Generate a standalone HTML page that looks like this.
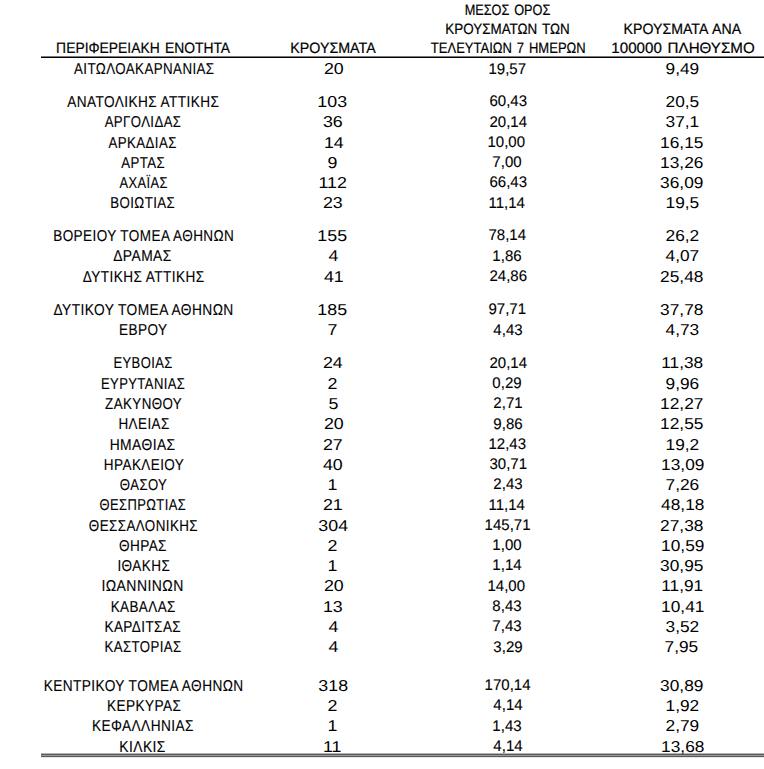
<!DOCTYPE html>
<html><head><meta charset="utf-8"><style>
html,body{margin:0;padding:0;background:#fff;}
body{width:764px;height:769px;position:relative;overflow:hidden;font-family:"Liberation Sans",sans-serif;color:#000;text-rendering:geometricPrecision;}
.t{position:absolute;white-space:nowrap;text-align:center;transform-origin:50% 50%;}
.s{-webkit-text-stroke:0.12px #000;}
.sh{-webkit-text-stroke:0.2px #000;}
.l{position:absolute;left:41px;right:0;}
</style></head><body>
<div class="l" style="top:56px;height:1px;background:#7a7a7a"></div>
<div class="l" style="top:57px;height:1px;background:#000"></div>
<div class="l" style="top:753px;height:1px;background:#b5b5b5"></div>
<div class="l" style="top:754px;height:1px;background:#5a5a5a"></div>
<div class="l" style="top:755px;height:1px;background:#9a9a9a"></div>
<div class="l" style="top:756px;height:1px;background:#5a5a5a"></div>
<div class="l" style="top:757px;height:1px;background:#e6e6e6"></div>
<div class="t s" style="left:60.74px;top:61.62px;width:166.55px;font-size:15.8px;line-height:15.8px;letter-spacing:0.500px;transform:scaleX(0.8440)">ΑΙΤΩΛΟΑΚΑΡΝΑΝΙΑΣ</div>
<div class="t" style="left:324.55px;top:61.62px;width:17.58px;font-size:15.8px;line-height:15.8px;transform:scaleX(1.1266)">20</div>
<div class="t s" style="left:488.01px;top:61.96px;width:38.54px;font-size:15.4px;line-height:15.4px;transform:scaleX(0.9760)">19,57</div>
<div class="t" style="left:667.37px;top:61.62px;width:30.75px;font-size:15.8px;line-height:15.8px;transform:scaleX(1.0950)">9,49</div>
<div class="t s" style="left:54.86px;top:94.62px;width:176.64px;font-size:15.8px;line-height:15.8px;letter-spacing:0.500px;transform:scaleX(0.8623)">ΑΝΑΤΟΛΙΚΗΣ ΑΤΤΙΚΗΣ</div>
<div class="t" style="left:319.37px;top:94.62px;width:26.36px;font-size:15.8px;line-height:15.8px;transform:scaleX(1.1266)">103</div>
<div class="t s" style="left:488.52px;top:93.96px;width:38.54px;font-size:15.4px;line-height:15.4px;transform:scaleX(0.9760)">60,43</div>
<div class="t" style="left:667.01px;top:94.62px;width:30.75px;font-size:15.8px;line-height:15.8px;transform:scaleX(1.0950)">20,5</div>
<div class="t s" style="left:97.15px;top:114.62px;width:92.09px;font-size:15.8px;line-height:15.8px;letter-spacing:0.500px;transform:scaleX(0.8334)">ΑΡΓΟΛΙΔΑΣ</div>
<div class="t" style="left:323.74px;top:114.62px;width:17.58px;font-size:15.8px;line-height:15.8px;transform:scaleX(1.1266)">36</div>
<div class="t s" style="left:488.66px;top:114.96px;width:38.54px;font-size:15.4px;line-height:15.4px;transform:scaleX(0.9760)">20,14</div>
<div class="t" style="left:667.34px;top:114.62px;width:30.75px;font-size:15.8px;line-height:15.8px;transform:scaleX(1.0950)">37,1</div>
<div class="t s" style="left:102.42px;top:135.62px;width:81.41px;font-size:15.8px;line-height:15.8px;letter-spacing:0.500px;transform:scaleX(0.8382)">ΑΡΚΑΔΙΑΣ</div>
<div class="t" style="left:324.54px;top:135.62px;width:17.58px;font-size:15.8px;line-height:15.8px;transform:scaleX(1.1266)">14</div>
<div class="t s" style="left:487.38px;top:134.96px;width:38.54px;font-size:15.4px;line-height:15.4px;transform:scaleX(0.9760)">10,00</div>
<div class="t" style="left:662.42px;top:135.62px;width:39.54px;font-size:15.8px;line-height:15.8px;transform:scaleX(1.0950)">16,15</div>
<div class="t s" style="left:117.48px;top:155.62px;width:52.36px;font-size:15.8px;line-height:15.8px;letter-spacing:0.500px;transform:scaleX(0.8358)">ΑΡΤΑΣ</div>
<div class="t" style="left:328.47px;top:155.62px;width:8.79px;font-size:15.8px;line-height:15.8px;transform:scaleX(1.1266)">9</div>
<div class="t s" style="left:492.23px;top:154.96px;width:29.97px;font-size:15.4px;line-height:15.4px;transform:scaleX(0.9760)">7,00</div>
<div class="t" style="left:662.47px;top:155.62px;width:39.54px;font-size:15.8px;line-height:15.8px;transform:scaleX(1.0950)">13,26</div>
<div class="t s" style="left:113.50px;top:175.62px;width:59.31px;font-size:15.8px;line-height:15.8px;letter-spacing:0.500px;transform:scaleX(0.8159)">ΑΧΑΪΑΣ</div>
<div class="t" style="left:319.63px;top:175.62px;width:25.19px;font-size:15.8px;line-height:15.8px;transform:scaleX(1.1266)">112</div>
<div class="t s" style="left:488.52px;top:174.96px;width:38.54px;font-size:15.4px;line-height:15.4px;transform:scaleX(0.9760)">66,43</div>
<div class="t" style="left:662.42px;top:175.62px;width:39.54px;font-size:15.8px;line-height:15.8px;transform:scaleX(1.0950)">36,09</div>
<div class="t s" style="left:104.40px;top:195.62px;width:77.38px;font-size:15.8px;line-height:15.8px;letter-spacing:0.500px;transform:scaleX(0.8411)">ΒΟΙΩΤΙΑΣ</div>
<div class="t" style="left:323.72px;top:195.62px;width:17.58px;font-size:15.8px;line-height:15.8px;transform:scaleX(1.1266)">23</div>
<div class="t s" style="left:488.33px;top:195.96px;width:37.40px;font-size:15.4px;line-height:15.4px;transform:scaleX(0.9760)">11,14</div>
<div class="t" style="left:666.99px;top:195.62px;width:30.75px;font-size:15.8px;line-height:15.8px;transform:scaleX(1.0950)">19,5</div>
<div class="t s" style="left:37.70px;top:228.62px;width:211.52px;font-size:15.8px;line-height:15.8px;letter-spacing:0.500px;transform:scaleX(0.8565)">ΒΟΡΕΙΟΥ ΤΟΜΕΑ ΑΘΗΝΩΝ</div>
<div class="t" style="left:319.21px;top:228.62px;width:26.36px;font-size:15.8px;line-height:15.8px;transform:scaleX(1.1266)">155</div>
<div class="t s" style="left:487.82px;top:227.96px;width:38.54px;font-size:15.4px;line-height:15.4px;transform:scaleX(0.9760)">78,14</div>
<div class="t" style="left:667.31px;top:228.62px;width:30.75px;font-size:15.8px;line-height:15.8px;transform:scaleX(1.0950)">26,2</div>
<div class="t s" style="left:109.02px;top:248.62px;width:66.93px;font-size:15.8px;line-height:15.8px;letter-spacing:0.500px;transform:scaleX(0.8755)">ΔΡΑΜΑΣ</div>
<div class="t" style="left:328.82px;top:248.62px;width:8.79px;font-size:15.8px;line-height:15.8px;transform:scaleX(1.1266)">4</div>
<div class="t s" style="left:492.22px;top:248.96px;width:29.97px;font-size:15.4px;line-height:15.4px;transform:scaleX(0.9760)">1,86</div>
<div class="t" style="left:667.30px;top:248.62px;width:30.75px;font-size:15.8px;line-height:15.8px;transform:scaleX(1.0950)">4,07</div>
<div class="t s" style="left:72.51px;top:269.62px;width:141.47px;font-size:15.8px;line-height:15.8px;letter-spacing:0.500px;transform:scaleX(0.8604)">ΔΥΤΙΚΗΣ ΑΤΤΙΚΗΣ</div>
<div class="t" style="left:324.63px;top:269.62px;width:17.58px;font-size:15.8px;line-height:15.8px;transform:scaleX(1.1266)">41</div>
<div class="t s" style="left:488.52px;top:268.96px;width:38.54px;font-size:15.4px;line-height:15.4px;transform:scaleX(0.9760)">24,86</div>
<div class="t" style="left:662.28px;top:269.62px;width:39.54px;font-size:15.8px;line-height:15.8px;transform:scaleX(1.0950)">25,48</div>
<div class="t s" style="left:39.72px;top:302.62px;width:207.24px;font-size:15.8px;line-height:15.8px;letter-spacing:0.500px;transform:scaleX(0.8699)">ΔΥΤΙΚΟΥ ΤΟΜΕΑ ΑΘΗΝΩΝ</div>
<div class="t" style="left:319.21px;top:302.62px;width:26.36px;font-size:15.8px;line-height:15.8px;transform:scaleX(1.1266)">185</div>
<div class="t s" style="left:487.76px;top:301.96px;width:38.54px;font-size:15.4px;line-height:15.4px;transform:scaleX(0.9760)">97,71</div>
<div class="t" style="left:662.33px;top:302.62px;width:39.54px;font-size:15.8px;line-height:15.8px;transform:scaleX(1.0950)">37,78</div>
<div class="t s" style="left:114.91px;top:322.62px;width:56.44px;font-size:15.8px;line-height:15.8px;letter-spacing:0.500px;transform:scaleX(0.8587)">ΕΒΡΟΥ</div>
<div class="t" style="left:328.33px;top:322.62px;width:8.79px;font-size:15.8px;line-height:15.8px;transform:scaleX(1.1266)">7</div>
<div class="t s" style="left:492.56px;top:322.96px;width:29.97px;font-size:15.4px;line-height:15.4px;transform:scaleX(0.9760)">4,43</div>
<div class="t" style="left:666.92px;top:322.62px;width:30.75px;font-size:15.8px;line-height:15.8px;transform:scaleX(1.0950)">4,73</div>
<div class="t s" style="left:107.17px;top:355.62px;width:72.10px;font-size:15.8px;line-height:15.8px;letter-spacing:0.500px;transform:scaleX(0.8223)">ΕΥΒΟΙΑΣ</div>
<div class="t" style="left:324.37px;top:355.62px;width:17.58px;font-size:15.8px;line-height:15.8px;transform:scaleX(1.1266)">24</div>
<div class="t s" style="left:488.66px;top:355.96px;width:38.54px;font-size:15.4px;line-height:15.4px;transform:scaleX(0.9760)">20,14</div>
<div class="t" style="left:662.68px;top:355.62px;width:38.37px;font-size:15.8px;line-height:15.8px;transform:scaleX(1.0950)">11,38</div>
<div class="t s" style="left:92.08px;top:376.62px;width:102.28px;font-size:15.8px;line-height:15.8px;letter-spacing:0.500px;transform:scaleX(0.8255)">ΕΥΡΥΤΑΝΙΑΣ</div>
<div class="t" style="left:328.47px;top:376.62px;width:8.79px;font-size:15.8px;line-height:15.8px;transform:scaleX(1.1266)">2</div>
<div class="t s" style="left:492.21px;top:375.96px;width:29.97px;font-size:15.4px;line-height:15.4px;transform:scaleX(0.9760)">0,29</div>
<div class="t" style="left:667.21px;top:376.62px;width:30.75px;font-size:15.8px;line-height:15.8px;transform:scaleX(1.0950)">9,96</div>
<div class="t s" style="left:97.65px;top:396.62px;width:91.29px;font-size:15.8px;line-height:15.8px;letter-spacing:0.500px;transform:scaleX(0.8449)">ΖΑΚΥΝΘΟΥ</div>
<div class="t" style="left:328.76px;top:396.62px;width:8.79px;font-size:15.8px;line-height:15.8px;transform:scaleX(1.1266)">5</div>
<div class="t s" style="left:492.98px;top:395.96px;width:29.97px;font-size:15.4px;line-height:15.4px;transform:scaleX(0.9760)">2,71</div>
<div class="t" style="left:662.15px;top:396.62px;width:39.54px;font-size:15.8px;line-height:15.8px;transform:scaleX(1.0950)">12,27</div>
<div class="t s" style="left:113.54px;top:416.62px;width:60.20px;font-size:15.8px;line-height:15.8px;letter-spacing:0.500px;transform:scaleX(0.8527)">ΗΛΕΙΑΣ</div>
<div class="t" style="left:324.55px;top:416.62px;width:17.58px;font-size:15.8px;line-height:15.8px;transform:scaleX(1.1266)">20</div>
<div class="t s" style="left:492.96px;top:416.96px;width:29.97px;font-size:15.4px;line-height:15.4px;transform:scaleX(0.9760)">9,86</div>
<div class="t" style="left:662.42px;top:416.62px;width:39.54px;font-size:15.8px;line-height:15.8px;transform:scaleX(1.0950)">12,55</div>
<div class="t s" style="left:105.48px;top:437.62px;width:75.27px;font-size:15.8px;line-height:15.8px;letter-spacing:0.500px;transform:scaleX(0.8755)">ΗΜΑΘΙΑΣ</div>
<div class="t" style="left:324.14px;top:437.62px;width:17.58px;font-size:15.8px;line-height:15.8px;transform:scaleX(1.1266)">27</div>
<div class="t s" style="left:487.63px;top:436.96px;width:38.54px;font-size:15.4px;line-height:15.4px;transform:scaleX(0.9760)">12,43</div>
<div class="t" style="left:667.29px;top:437.62px;width:30.75px;font-size:15.8px;line-height:15.8px;transform:scaleX(1.0950)">19,2</div>
<div class="t s" style="left:96.62px;top:457.62px;width:94.16px;font-size:15.8px;line-height:15.8px;letter-spacing:0.500px;transform:scaleX(0.8548)">ΗΡΑΚΛΕΙΟΥ</div>
<div class="t" style="left:324.39px;top:457.62px;width:17.58px;font-size:15.8px;line-height:15.8px;transform:scaleX(1.1266)">40</div>
<div class="t s" style="left:488.56px;top:456.96px;width:38.54px;font-size:15.4px;line-height:15.4px;transform:scaleX(0.9760)">30,71</div>
<div class="t" style="left:662.62px;top:457.62px;width:39.54px;font-size:15.8px;line-height:15.8px;transform:scaleX(1.0950)">13,09</div>
<div class="t s" style="left:115.31px;top:477.62px;width:57.13px;font-size:15.8px;line-height:15.8px;letter-spacing:0.500px;transform:scaleX(0.8311)">ΘΑΣΟΥ</div>
<div class="t" style="left:328.35px;top:477.62px;width:8.79px;font-size:15.8px;line-height:15.8px;transform:scaleX(1.1266)">1</div>
<div class="t s" style="left:492.94px;top:476.96px;width:29.97px;font-size:15.4px;line-height:15.4px;transform:scaleX(0.9760)">2,43</div>
<div class="t" style="left:666.51px;top:477.62px;width:30.75px;font-size:15.8px;line-height:15.8px;transform:scaleX(1.0950)">7,26</div>
<div class="t s" style="left:90.09px;top:497.62px;width:105.71px;font-size:15.8px;line-height:15.8px;letter-spacing:0.500px;transform:scaleX(0.8190)">ΘΕΣΠΡΩΤΙΑΣ</div>
<div class="t" style="left:323.79px;top:497.62px;width:17.58px;font-size:15.8px;line-height:15.8px;transform:scaleX(1.1266)">21</div>
<div class="t s" style="left:488.33px;top:497.96px;width:37.40px;font-size:15.4px;line-height:15.4px;transform:scaleX(0.9760)">11,14</div>
<div class="t" style="left:663.15px;top:497.62px;width:39.54px;font-size:15.8px;line-height:15.8px;transform:scaleX(1.0950)">48,18</div>
<div class="t s" style="left:79.09px;top:518.62px;width:128.93px;font-size:15.8px;line-height:15.8px;letter-spacing:0.500px;transform:scaleX(0.8471)">ΘΕΣΣΑΛΟΝΙΚΗΣ</div>
<div class="t" style="left:320.19px;top:518.62px;width:26.36px;font-size:15.8px;line-height:15.8px;transform:scaleX(1.1266)">304</div>
<div class="t s" style="left:483.67px;top:517.96px;width:47.10px;font-size:15.4px;line-height:15.4px;transform:scaleX(0.9760)">145,71</div>
<div class="t" style="left:662.28px;top:518.62px;width:39.54px;font-size:15.8px;line-height:15.8px;transform:scaleX(1.0950)">27,38</div>
<div class="t s" style="left:115.15px;top:538.62px;width:55.87px;font-size:15.8px;line-height:15.8px;letter-spacing:0.500px;transform:scaleX(0.8601)">ΘΗΡΑΣ</div>
<div class="t" style="left:328.47px;top:538.62px;width:8.79px;font-size:15.8px;line-height:15.8px;transform:scaleX(1.1266)">2</div>
<div class="t s" style="left:492.14px;top:537.96px;width:29.97px;font-size:15.4px;line-height:15.4px;transform:scaleX(0.9760)">1,00</div>
<div class="t" style="left:662.62px;top:538.62px;width:39.54px;font-size:15.8px;line-height:15.8px;transform:scaleX(1.0950)">10,59</div>
<div class="t s" style="left:112.86px;top:558.62px;width:61.65px;font-size:15.8px;line-height:15.8px;letter-spacing:0.500px;transform:scaleX(0.8561)">ΙΘΑΚΗΣ</div>
<div class="t" style="left:328.35px;top:558.62px;width:8.79px;font-size:15.8px;line-height:15.8px;transform:scaleX(1.1266)">1</div>
<div class="t s" style="left:492.40px;top:557.96px;width:29.97px;font-size:15.4px;line-height:15.4px;transform:scaleX(0.9760)">1,14</div>
<div class="t" style="left:662.21px;top:558.62px;width:39.54px;font-size:15.8px;line-height:15.8px;transform:scaleX(1.0950)">30,95</div>
<div class="t s" style="left:96.34px;top:578.62px;width:93.08px;font-size:15.8px;line-height:15.8px;letter-spacing:0.500px;transform:scaleX(0.8838)">ΙΩΑΝΝΙΝΩΝ</div>
<div class="t" style="left:324.55px;top:578.62px;width:17.58px;font-size:15.8px;line-height:15.8px;transform:scaleX(1.1266)">20</div>
<div class="t s" style="left:487.38px;top:578.96px;width:38.54px;font-size:15.4px;line-height:15.4px;transform:scaleX(0.9760)">14,00</div>
<div class="t" style="left:662.77px;top:578.62px;width:38.37px;font-size:15.8px;line-height:15.8px;transform:scaleX(1.0950)">11,91</div>
<div class="t s" style="left:105.05px;top:599.62px;width:76.52px;font-size:15.8px;line-height:15.8px;letter-spacing:0.500px;transform:scaleX(0.8515)">ΚΑΒΑΛΑΣ</div>
<div class="t" style="left:323.89px;top:599.62px;width:17.58px;font-size:15.8px;line-height:15.8px;transform:scaleX(1.1266)">13</div>
<div class="t s" style="left:492.03px;top:598.96px;width:29.97px;font-size:15.4px;line-height:15.4px;transform:scaleX(0.9760)">8,43</div>
<div class="t" style="left:662.62px;top:599.62px;width:39.54px;font-size:15.8px;line-height:15.8px;transform:scaleX(1.0950)">10,41</div>
<div class="t s" style="left:98.46px;top:619.62px;width:89.61px;font-size:15.8px;line-height:15.8px;letter-spacing:0.500px;transform:scaleX(0.8548)">ΚΑΡΔΙΤΣΑΣ</div>
<div class="t" style="left:328.82px;top:619.62px;width:8.79px;font-size:15.8px;line-height:15.8px;transform:scaleX(1.1266)">4</div>
<div class="t s" style="left:492.35px;top:618.96px;width:29.97px;font-size:15.4px;line-height:15.4px;transform:scaleX(0.9760)">7,43</div>
<div class="t" style="left:667.41px;top:619.62px;width:30.75px;font-size:15.8px;line-height:15.8px;transform:scaleX(1.0950)">3,52</div>
<div class="t s" style="left:97.13px;top:639.62px;width:92.24px;font-size:15.8px;line-height:15.8px;letter-spacing:0.500px;transform:scaleX(0.8369)">ΚΑΣΤΟΡΙΑΣ</div>
<div class="t" style="left:328.82px;top:639.62px;width:8.79px;font-size:15.8px;line-height:15.8px;transform:scaleX(1.1266)">4</div>
<div class="t s" style="left:492.93px;top:639.96px;width:29.97px;font-size:15.4px;line-height:15.4px;transform:scaleX(0.9760)">3,29</div>
<div class="t" style="left:666.44px;top:639.62px;width:30.75px;font-size:15.8px;line-height:15.8px;transform:scaleX(1.0950)">7,95</div>
<div class="t s" style="left:28.20px;top:678.62px;width:231.34px;font-size:15.8px;line-height:15.8px;letter-spacing:0.500px;transform:scaleX(0.8648)">ΚΕΝΤΡΙΚΟΥ ΤΟΜΕΑ ΑΘΗΝΩΝ</div>
<div class="t" style="left:319.53px;top:678.62px;width:26.36px;font-size:15.8px;line-height:15.8px;transform:scaleX(1.1266)">318</div>
<div class="t s" style="left:483.78px;top:677.96px;width:47.10px;font-size:15.4px;line-height:15.4px;transform:scaleX(0.9760)">170,14</div>
<div class="t" style="left:662.42px;top:678.62px;width:39.54px;font-size:15.8px;line-height:15.8px;transform:scaleX(1.0950)">30,89</div>
<div class="t s" style="left:100.71px;top:698.62px;width:86.37px;font-size:15.8px;line-height:15.8px;letter-spacing:0.500px;transform:scaleX(0.8627)">ΚΕΡΚΥΡΑΣ</div>
<div class="t" style="left:328.47px;top:698.62px;width:8.79px;font-size:15.8px;line-height:15.8px;transform:scaleX(1.1266)">2</div>
<div class="t s" style="left:492.70px;top:697.96px;width:29.97px;font-size:15.4px;line-height:15.4px;transform:scaleX(0.9760)">4,14</div>
<div class="t" style="left:667.29px;top:698.62px;width:30.75px;font-size:15.8px;line-height:15.8px;transform:scaleX(1.0950)">1,92</div>
<div class="t s" style="left:84.09px;top:718.62px;width:117.89px;font-size:15.8px;line-height:15.8px;letter-spacing:0.500px;transform:scaleX(0.8653)">ΚΕΦΑΛΛΗΝΙΑΣ</div>
<div class="t" style="left:328.35px;top:718.62px;width:8.79px;font-size:15.8px;line-height:15.8px;transform:scaleX(1.1266)">1</div>
<div class="t s" style="left:492.26px;top:718.96px;width:29.97px;font-size:15.4px;line-height:15.4px;transform:scaleX(0.9760)">1,43</div>
<div class="t" style="left:667.24px;top:718.62px;width:30.75px;font-size:15.8px;line-height:15.8px;transform:scaleX(1.0950)">2,79</div>
<div class="t s" style="left:116.37px;top:739.62px;width:53.18px;font-size:15.8px;line-height:15.8px;letter-spacing:0.500px;transform:scaleX(0.8749)">ΚΙΛΚΙΣ</div>
<div class="t" style="left:324.41px;top:739.62px;width:16.40px;font-size:15.8px;line-height:15.8px;transform:scaleX(1.1266)">11</div>
<div class="t s" style="left:492.70px;top:738.96px;width:29.97px;font-size:15.4px;line-height:15.4px;transform:scaleX(0.9760)">4,14</div>
<div class="t" style="left:662.53px;top:739.62px;width:39.54px;font-size:15.8px;line-height:15.8px;transform:scaleX(1.0950)">13,68</div>
<div class="t sh" style="left:457.09px;top:3.30px;width:100.99px;font-size:15.0px;line-height:15.0px;word-spacing:1.50px;transform:scaleX(0.8486)">ΜΕΣΟΣ ΟΡΟΣ</div>
<div class="t sh" style="left:438.43px;top:22.30px;width:139.14px;font-size:15.0px;line-height:15.0px;word-spacing:1.50px;transform:scaleX(0.8946)">ΚΡΟΥΣΜΑΤΩΝ ΤΩΝ</div>
<div class="t sh" style="left:418.54px;top:41.30px;width:178.53px;font-size:15.0px;line-height:15.0px;word-spacing:1.50px;transform:scaleX(0.8674)">ΤΕΛΕΥΤΑΙΩΝ 7 ΗΜΕΡΩΝ</div>
<div class="t sh" style="left:619.61px;top:22.30px;width:124.77px;font-size:15.0px;line-height:15.0px;word-spacing:1.50px;transform:scaleX(0.9423)">ΚΡΟΥΣΜΑΤΑ ΑΝΑ</div>
<div class="t sh" style="left:611.61px;top:41.30px;width:142.03px;font-size:15.0px;line-height:15.0px;word-spacing:1.50px;transform:scaleX(1.0096)">100000 ΠΛΗΘΥΣΜΟ</div>
<div class="t sh" style="left:287.66px;top:41.30px;width:89.92px;font-size:15.0px;line-height:15.0px;word-spacing:1.50px;transform:scaleX(0.9504)">ΚΡΟΥΣΜΑΤΑ</div>
<div class="t sh" style="left:49.11px;top:41.30px;width:188.23px;font-size:15.0px;line-height:15.0px;word-spacing:1.50px;transform:scaleX(0.9243)">ΠΕΡΙΦΕΡΕΙΑΚΗ ΕΝΟΤΗΤΑ</div>
</body></html>
